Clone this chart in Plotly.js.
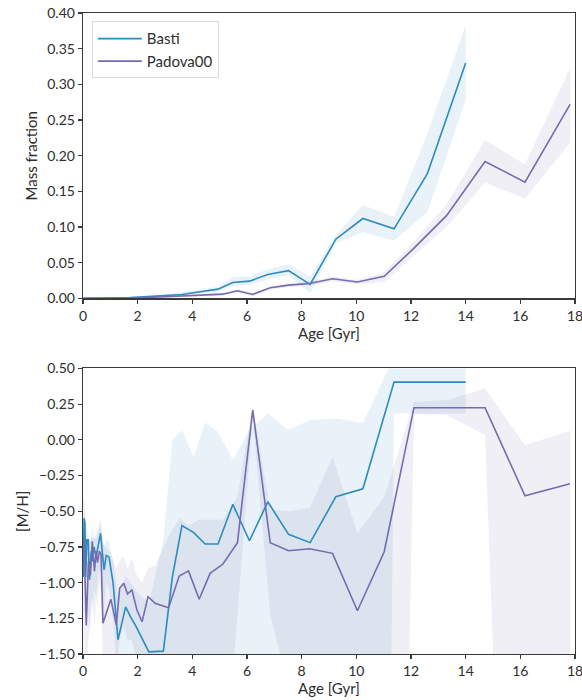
<!DOCTYPE html>
<html>
<head>
<meta charset="utf-8">
<script src="https://cdn.plot.ly/plotly-3.0.1.min.js"></script>
<style>
  html, body { margin: 0; padding: 0; background: #fff; }
  #chart { width: 582px; height: 700px; }
</style>
</head>
<body>
<div id="chart"></div>
<script>
// Ages [Gyr] of the Basti model grid
const bastiAge = [0.01, 0.04, 0.07, 0.1, 0.14, 0.19, 0.24, 0.3, 0.35, 0.4, 0.48, 0.56, 0.64, 0.77, 0.85, 0.95, 1.1,
  1.28, 1.56, 1.74, 1.92, 2.41, 2.94, 3.27, 3.62, 4.05, 4.47, 4.94, 5.48, 6.09, 6.76, 7.52, 8.31, 9.25, 10.24, 11.38, 12.6, 14.0];

// Basti: mass fraction per age bin, with lower / upper bounds
const bastiMass = [0.0001, 0.0001, 0.0001, 0.0001, 0.0001, 0.0001, 0.0002, 0.0002, 0.0002, 0.0002, 0.0002, 0.0003, 0.0003, 0.0003, 0.0004, 0.0004, 0.0005,
  0.0007, 0.001, 0.0012, 0.0016, 0.0026, 0.0038, 0.0048, 0.0056, 0.008, 0.0105, 0.013, 0.0224, 0.0242, 0.0336, 0.039, 0.0196, 0.083, 0.112, 0.0975, 0.175, 0.330];
const bastiMassHi = [0.0003, 0.0003, 0.0003, 0.0003, 0.0003, 0.0003, 0.0004, 0.0004, 0.0004, 0.0004, 0.0004, 0.0005, 0.0005, 0.0005, 0.0006, 0.0006, 0.0008,
  0.0011, 0.0016, 0.0019, 0.0024, 0.0036, 0.0052, 0.0065, 0.0078, 0.0105, 0.0135, 0.0165, 0.030, 0.031, 0.041, 0.048, 0.031, 0.089, 0.131, 0.114, 0.231, 0.383];
const bastiMassLo = [0, 0, 0, 0, 0, 0, 0.0001, 0.0001, 0.0001, 0.0001, 0.0001, 0.0001, 0.0001, 0.0001, 0.0002, 0.0002, 0.0002,
  0.0004, 0.0006, 0.0007, 0.0009, 0.0017, 0.0026, 0.0033, 0.0038, 0.0058, 0.0078, 0.0098, 0.017, 0.019, 0.027, 0.032, 0.007, 0.077, 0.093, 0.081, 0.121, 0.278];

// Basti: metallicity [M/H] per age bin, with lower / upper bounds
const bastiMH = [-0.96, -0.55, -0.58, -0.96, -0.70, -0.70, -0.98, -0.78, -0.85, -0.75, -0.82, -0.72, -0.655, -0.91, -0.81, -0.82, -1.0,
  -1.40, -1.17, -1.24, -1.30, -1.485, -1.48, -0.96, -0.60, -0.65, -0.73, -0.73, -0.452, -0.707, -0.434, -0.662, -0.72, -0.399, -0.343, 0.404, 0.404, 0.404];
const bastiMHHi = [-0.40, -0.42, -0.45, -0.60, -0.62, -0.65, -0.70, -0.68, -0.70, -0.68, -0.70, -0.62, -0.55, -0.75, -0.70, -0.72, -0.85,
  -1.10, -0.95, -1.00, -1.05, -1.15, -0.70, 0.0, 0.068, -0.118, 0.122, 0.056, -0.142, 0.068, 0.185, 0.068, 0.138, 0.15, 0.119, 0.58, 0.6, 0.6];
const bastiMHLo = [-1.6, -1.2, -1.2, -1.3, -1.2, -1.2, -1.3, -1.1, -1.2, -1.05, -1.1, -0.95, -0.9, -1.2, -1.0, -1.05, -1.25,
  -1.8, -1.5, -1.6, -1.7, -2.0, -2.2, -2.0, -1.8, -2.0, -2.0, -2.0, -2.0, -2.0, -2.0, -2.0, -2.0, -3.0, -20, 0.185, 0.185, 0.185];

// Ages [Gyr] of the Padova00 model grid
const padovaAge = [0.04, 0.12, 0.2, 0.27, 0.34, 0.42, 0.48, 0.53, 0.6, 0.66, 0.73, 1.02, 1.22, 1.34, 1.49, 1.63, 1.79, 1.97, 2.16, 2.38,
  2.64, 3.13, 3.52, 3.86, 4.25, 4.65, 5.12, 5.65, 6.21, 6.85, 7.52, 8.29, 9.13, 10.04, 11.02, 12.11, 13.3, 14.71, 16.17, 17.82];

// Padova00: mass fraction per age bin, with lower / upper bounds
const padovaMass = [0.0001, 0.0001, 0.0001, 0.0001, 0.0001, 0.0001, 0.0001, 0.0001, 0.0001, 0.0001, 0.0001, 0.0002, 0.0003, 0.0003, 0.0004, 0.0005, 0.0006, 0.0008, 0.001, 0.0013,
  0.0017, 0.0025, 0.003, 0.0035, 0.004, 0.005, 0.006, 0.0107, 0.0056, 0.0149, 0.0186, 0.021, 0.0275, 0.023, 0.031, 0.0705, 0.116, 0.192, 0.163, 0.272];
const padovaMassHi = [0.0002, 0.0002, 0.0002, 0.0002, 0.0002, 0.0002, 0.0002, 0.0002, 0.0002, 0.0002, 0.0002, 0.0004, 0.0005, 0.0005, 0.0006, 0.0008, 0.0009, 0.0012, 0.0015, 0.0019,
  0.0024, 0.0035, 0.0042, 0.0048, 0.0055, 0.0068, 0.0082, 0.013, 0.008, 0.017, 0.021, 0.024, 0.031, 0.026, 0.037, 0.080, 0.132, 0.222, 0.188, 0.323];
const padovaMassLo = [0, 0, 0, 0, 0, 0, 0, 0, 0, 0, 0, 0.0001, 0.0001, 0.0001, 0.0002, 0.0002, 0.0003, 0.0004, 0.0005, 0.0007,
  0.001, 0.0015, 0.0018, 0.0022, 0.0025, 0.0032, 0.004, 0.008, 0.003, 0.012, 0.016, 0.018, 0.024, 0.020, 0.023, 0.060, 0.100, 0.162, 0.140, 0.218];

// Padova00: metallicity [M/H] per age bin, with lower / upper bounds
const padovaMH = [-0.70, -1.30, -0.85, -0.95, -0.71, -0.92, -0.78, -0.86, -0.78, -0.80, -1.285, -1.117, -1.297, -1.04, -1.005, -1.08, -1.05, -1.19, -1.274, -1.099,
  -1.145, -1.176, -0.954, -0.918, -1.117, -0.935, -0.87, -0.72, 0.208, -0.72, -0.777, -0.763, -0.795, -1.197, -0.784, 0.225, 0.225, 0.225, -0.392, -0.308];
const padovaMHHi = [-0.45, -0.72, -0.70, -0.72, -0.60, -0.70, -0.62, -0.66, -0.60, -0.62, -0.72, -0.80, -0.90, -0.85, -0.82, -0.90, -0.83, -0.95, -1.00, -0.90,
  -0.88, -0.68, -0.55, -0.60, -0.56, -0.56, -0.56, -0.40, 0.243, -0.49, -0.50, -0.48, -0.12, -0.655, -0.40, 0.266, 0.278, 0.36, -0.037, 0.061];
const padovaMHLo = [-1.4, -1.6, -1.4, -1.3, -1.1, -1.3, -1.1, -1.2, -1.0, -1.1, -1.6, -1.5, -1.7, -1.4, -1.3, -1.4, -1.4, -1.55, -1.6, -1.5,
  -1.6, -1.8, -2.0, -2.0, -2.2, -2.3, -2.53, -1.23, 0.15, -1.22, -1.74, -3.0, -4.0, -6.0, -10.7, 0.18, 0.173, 0.033, -7.6, -5.0];

const ageTicks = [0, 2, 4, 6, 8, 10, 12, 14, 16, 18];
const massTicks = [0.00, 0.05, 0.10, 0.15, 0.20, 0.25, 0.30, 0.35, 0.40];
const mhTicks = [-1.50, -1.25, -1.00, -0.75, -0.50, -0.25, 0.00, 0.25, 0.50];

const bastiColor = '#2b8cbe';
const padovaColor = '#756bb1';
const bastiFill = 'rgba(43,140,190,0.11)';
const padovaFill = 'rgba(117,107,177,0.11)';

// Closed polygon running along the upper bound and back along the lower bound
function band(x, lo, hi, fill, xa, ya) {
  return {
    x: x.concat(x.slice().reverse()),
    y: hi.concat(lo.slice().reverse()),
    xaxis: xa, yaxis: ya,
    type: 'scatter', mode: 'lines',
    fill: 'toself', fillcolor: fill,
    line: { width: 0, color: 'rgba(0,0,0,0)' },
    hoverinfo: 'skip', showlegend: false
  };
}

function line(x, y, color, name, xa, ya, legend) {
  return {
    x: x, y: y, xaxis: xa, yaxis: ya, name: name,
    type: 'scatter', mode: 'lines',
    line: { color: color, width: 1.6 },
    showlegend: legend
  };
}

const data = [
  band(bastiAge, bastiMassLo, bastiMassHi, bastiFill, 'x', 'y'),
  band(padovaAge, padovaMassLo, padovaMassHi, padovaFill, 'x', 'y'),
  band(bastiAge, bastiMHLo, bastiMHHi, bastiFill, 'x2', 'y2'),
  band(padovaAge, padovaMHLo, padovaMHHi, padovaFill, 'x2', 'y2'),
  line(bastiAge, bastiMass, bastiColor, 'Basti', 'x', 'y', true),
  line(padovaAge, padovaMass, padovaColor, 'Padova00', 'x', 'y', true),
  line(bastiAge, bastiMH, bastiColor, 'Basti', 'x2', 'y2', false),
  line(padovaAge, padovaMH, padovaColor, 'Padova00', 'x2', 'y2', false)
];

const axisColor = '#3a3a3a';
const textColor = '#2e2e2e';
const titleFont = { size: 15, color: textColor };
const common = {
  showgrid: false, zeroline: false,
  showline: true, mirror: true, linecolor: axisColor, linewidth: 1.3,
  ticks: 'outside', ticklen: 4, tickwidth: 1.2, tickcolor: axisColor,
  tickfont: { size: 14, color: textColor },
  ticklabeloverflow: 'allow'
};

const layout = {
  width: 582, height: 700,
  margin: { l: 83, r: 7, t: 13, b: 46 },
  paper_bgcolor: '#fff', plot_bgcolor: '#fff',
  font: { family: 'Lato, "DejaVu Sans", sans-serif', size: 14, color: textColor },
  showlegend: true,
  legend: {
    x: 0.018, y: 0.987, xanchor: 'left', yanchor: 'top',
    bgcolor: 'rgba(255,255,255,0.8)', bordercolor: '#d8d8d8', borderwidth: 1,
    font: { size: 15, color: textColor },
    itemwidth: 44
  },
  xaxis: Object.assign({}, common, {
    domain: [0, 1], anchor: 'y', range: [0, 18],
    tickvals: ageTicks, ticktext: ageTicks.map(String),
    title: { text: 'Age [Gyr]', font: titleFont, standoff: 5 }
  }),
  yaxis: Object.assign({}, common, {
    domain: [0.5547, 1], anchor: 'x', range: [0, 0.4],
    tickvals: massTicks, tickformat: '.2f',
    title: { text: 'Mass fraction', font: titleFont, standoff: 6 }
  }),
  xaxis2: Object.assign({}, common, {
    domain: [0, 1], anchor: 'y2', range: [0, 18],
    tickvals: ageTicks, ticktext: ageTicks.map(String),
    title: { text: 'Age [Gyr]', font: titleFont, standoff: 5 }
  }),
  yaxis2: Object.assign({}, common, {
    domain: [0, 0.4455], anchor: 'x2', range: [-1.5, 0.5],
    tickvals: mhTicks, tickformat: '.2f',
    title: { text: '[M/H]', font: titleFont, standoff: 6 }
  })
};

Plotly.newPlot('chart', data, layout, { staticPlot: true, displayModeBar: false });
</script>
</body>
</html>
